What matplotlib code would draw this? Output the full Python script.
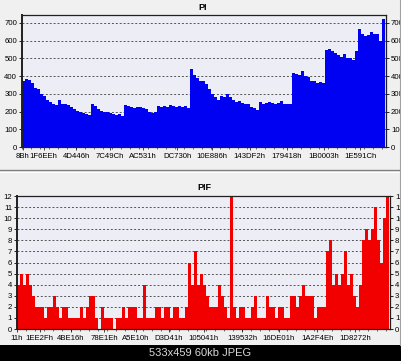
import matplotlib
matplotlib.use("Agg")
import matplotlib.pyplot as plt
import numpy as np
from matplotlib.patches import Rectangle
from matplotlib.lines import Line2D

plt.rcParams['font.family'] = ['Liberation Sans', 'DejaVu Sans']

# ---- data ----
pi_values = [370, 385, 380, 360, 335, 325, 300, 290, 265, 255,
             245, 235, 265, 240, 245, 235, 225, 215, 205, 195,
             190, 185, 180, 245, 230, 215, 205, 200, 195, 190,
             185, 180, 185, 175, 235, 230, 225, 220, 225, 225,
             220, 215, 195, 190, 195, 230, 225, 230, 225, 235,
             230, 225, 230, 225, 230, 220, 440, 405, 390, 375,
             370, 355, 330, 300, 285, 265, 290, 280, 300, 285,
             265, 255, 260, 250, 240, 245, 225, 220, 210, 255,
             245, 250, 255, 250, 245, 250, 260, 245, 240, 245,
             415, 410, 405, 430, 400, 395, 375, 370, 360, 365,
             360, 545, 555, 540, 530, 520, 510, 525, 505, 500,
             490, 540, 665, 640, 625, 630, 650, 640, 635, 600,
             720]
pi_tick_labels = ['8Bh', '1F6EEh', '4D446h', '7C49Ch', 'AC531h', 'DC730h',
                  '10E886h', '143DF2h', '179418h', '1B0003h', '1E591Ch']
pi_tick_index = [0.2, 7.2, 18.1, 29.2, 40.3, 51.7, 63.3, 75.9, 88.3, 100.6, 112.8]

pif_values = [4, 5, 4, 5, 4, 3, 2, 2, 2, 1,
              2, 2, 3, 2, 1, 2, 2, 1, 1, 1,
              1, 2, 1, 2, 3, 3, 1, 0, 2, 1,
              1, 1, 0, 1, 1, 2, 1, 2, 2, 2,
              1, 1, 4, 1, 1, 1, 2, 2, 1, 2,
              2, 1, 2, 2, 1, 1, 2, 6, 4, 7,
              4, 5, 4, 3, 2, 2, 2, 4, 3, 2,
              1, 12, 2, 1, 2, 2, 1, 1, 2, 3,
              1, 1, 1, 3, 2, 2, 1, 2, 2, 1,
              1, 3, 3, 2, 3, 4, 3, 3, 3, 1,
              2, 2, 2, 7, 8, 4, 5, 4, 5, 7,
              4, 5, 3, 2, 4, 8, 9, 8, 9, 11,
              8, 6, 10, 12]
pif_tick_labels = ['11h', '1EE2Fh', '4BE16h', '78E1Eh', 'A5E10h', 'D3D41h',
                   '105041h', '139532h', '16DE01h', '1A2F4Eh', '1D8272h']
pif_tick_index = [0.0, 7.6, 17.9, 29.0, 39.6, 50.6, 62.2, 74.9, 87.2, 100.0, 112.6]

W, H = 402, 361
fig = plt.figure(figsize=(W / 100, H / 100), dpi=100)
fig.patch.set_facecolor('#f0f0f0')

def frac(l, t, r, b):
    return [l / W, 1 - b / H, (r - l) / W, (b - t) / H]

FS = 5.6
plot_bg = '#ededf6'

def style(ax, ymax, yticks):
    ax.set_facecolor(plot_bg)
    ax.set_ylim(0, ymax)
    ax.set_yticks(yticks)
    ax.yaxis.grid(True, linestyle=(0, (2, 2)), color='#555555', linewidth=0.7)
    ax.set_axisbelow(True)
    for s in ax.spines.values():
        s.set_color('#202020')
        s.set_linewidth(0.9)
    ax.spines['left'].set_linewidth(1.4)
    ax.tick_params(axis='y', which='both', direction='out', length=2.5, width=0.6,
                   pad=1, labelsize=FS, left=True, right=True,
                   labelleft=True, labelright=True, colors='#000000')
    ax.tick_params(axis='x', direction='out', length=2, width=0.5, pad=2.5,
                   labelsize=FS, colors='#000000')
    ax.tick_params(axis='x', which='minor', length=1.2, width=0.4)

# ---- top panel: PI ----
ax1 = fig.add_axes(frac(22, 15, 386, 147))
n1 = len(pi_values)
ax1.bar(np.arange(n1), pi_values, width=1.0, align='edge', color='#0000f2',
        linewidth=0)
ax1.set_xlim(0, 121.3)
style(ax1, 745, range(0, 701, 100))
ax1.set_xticks(pi_tick_index)
ax1.set_xticklabels(pi_tick_labels)
ax1.set_xticks(np.arange(0, 121, 3.0), minor=True)
fig.text(203 / W, 1 - 7 / H, 'PI', ha='center', va='center', fontsize=6.5,
         fontweight='bold')

# ---- bottom panel: PIF ----
ax2 = fig.add_axes(frac(17, 195.5, 390, 329))
n2 = len(pif_values)
ax2.bar(np.arange(n2), pif_values, width=1.0, align='edge', color='#f20000',
        linewidth=0)
ax2.set_xlim(0, 124.2)
style(ax2, 12.05, range(0, 13))
ax2.set_xticks(pif_tick_index)
ax2.set_xticklabels(pif_tick_labels)
ax2.set_xticks(np.arange(0, 124, 3.0), minor=True)
fig.text(204 / W, 1 - 187 / H, 'PIF', ha='center', va='center', fontsize=6.5,
         fontweight='bold')

# ---- frame lines and separator ----
fig.add_artist(Line2D([0, 1], [1 - 170 / H, 1 - 170 / H], color='#808080',
                      linewidth=1.0, transform=fig.transFigure))
fig.add_artist(Line2D([0, 1], [1 - 172 / H, 1 - 172 / H], color='#ffffff',
                      linewidth=0.8, transform=fig.transFigure))
fig.add_artist(Line2D([400 / W, 400 / W], [1 - 345 / H, 1], color='#a0a0a0',
                      linewidth=0.8, transform=fig.transFigure))

# ---- black banner at bottom ----
fig.add_artist(Rectangle((0, 0), 1, 16 / H, transform=fig.transFigure,
                         facecolor='#000000', edgecolor='none'))
fig.text(200 / W, 8 / H, '533x459 60kb JPEG', ha='center', va='center',
         fontsize=8, color='#d8d8d8')

fig.savefig('out.png', dpi=100, facecolor=fig.get_facecolor())
